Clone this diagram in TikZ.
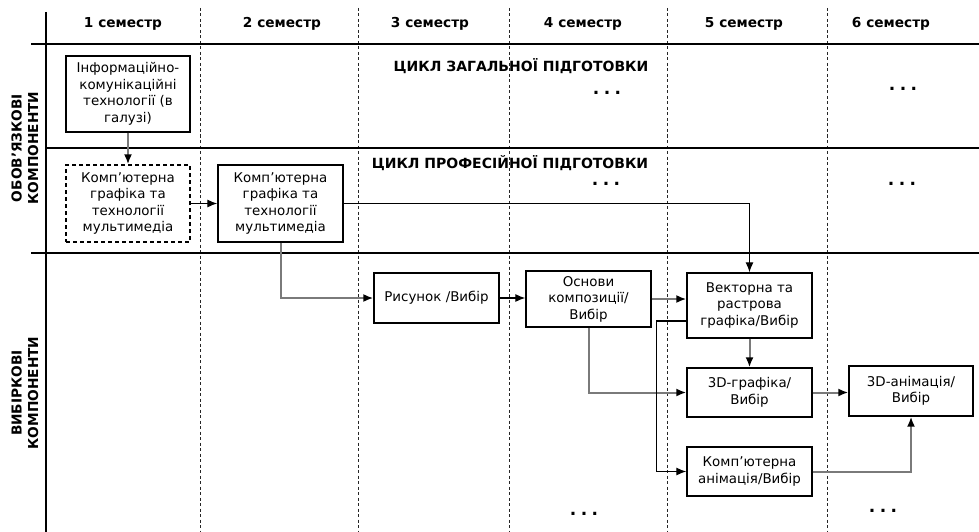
\documentclass[tikz,border=0pt]{standalone}
\usepackage{fontspec}
\setmainfont{DejaVu Sans}
\usetikzlibrary{arrows.meta}

\begin{document}
\begin{tikzpicture}[x=1pt,y=-1pt,
  grid/.style={line width=2.3pt,black},
  semline/.style={line width=1pt,black!85,dash pattern=on 3pt off 2.5pt},
  head/.style={font=\fontsize{13.7}{16}\selectfont\bfseries,inner sep=0pt},
  cycle/.style={font=\fontsize{14}{16}\selectfont\bfseries,inner sep=0pt},
  side/.style={font=\fontsize{13.7}{16.5}\selectfont\bfseries,align=center,rotate=90,inner sep=0pt},
  dots/.style={font=\fontsize{17}{17}\selectfont\bfseries,inner sep=0pt},
  box/.style={draw,line width=1.3pt,fill=white,align=center,inner sep=1pt,
    font=\fontsize{13.4}{16.5}\selectfont},
  optbox/.style={box,dash pattern=on 4pt off 3pt},
  grayarrow/.style={draw=black!52,line width=2pt,-{Latex[length=10pt,width=8pt,color=black]}},
  blackarrow/.style={draw=black,line width=1.2pt,-{Latex[length=10pt,width=8pt]}}]
\useasboundingbox (0,0) rectangle (979,532);

% semester separators
\foreach \x in {200,358,509,667,827}
  \draw[semline] (\x,8) -- (\x,532);

% table frame
\draw[grid] (46,12) -- (46,532);
\draw[grid] (31,44) -- (979,44);
\draw[grid] (46,148) -- (979,148);
\draw[grid] (31,253) -- (979,253);

% semester headings
\node[head] (s1) at (123,24) {1 семестр};
\node[head] (s2) at (282,24) {2 семестр};
\node[head] (s3) at (430,24) {3 семестр};
\node[head] (s4) at (583,24) {4 семестр};
\node[head] (s5) at (744,24) {5 семестр};
\node[head] (s6) at (891,24) {6 семестр};

% row labels
\node[side] (obl) at (25,148) {ОБОВ'ЯЗКОВІ\\КОМПОНЕНТИ};
\node[side] (vyb) at (25,393) {ВИБІРКОВІ\\КОМПОНЕНТИ};

% cycle titles
\node[cycle] (zag) at (521,66) {ЦИКЛ ЗАГАЛЬНОЇ ПІДГОТОВКИ};
\node[cycle] (prof) at (510,163) {ЦИКЛ ПРОФЕСІЙНОЇ ПІДГОТОВКИ};

% continuation marks
\newcommand{\cont}{.\hspace{4.5pt}.\hspace{4.5pt}.}
\node[dots] (d1) at (607,93) {\cont};
\node[dots] (d2) at (903,89) {\cont};
\node[dots] (d3) at (606,184) {\cont};
\node[dots] (d4) at (902,184) {\cont};
\node[dots] (d5) at (584,514) {\cont};
\node[dots] (d6) at (883,511) {\cont};

% courses
\node[box,minimum width=124pt,minimum height=76pt] (a) at (128,94)
  {Інформаційно-\\комунікаційні\\технології (в\\галузі)};
\node[optbox,minimum width=124pt,minimum height=77pt] (b) at (128,203.5)
  {Комп'ютерна\\графіка та\\технології\\мультимедіа};
\node[box,minimum width=125pt,minimum height=77pt] (c) at (280.5,203.5)
  {Комп'ютерна\\графіка та\\технології\\мультимедіа};
\node[box,minimum width=125pt,minimum height=50pt] (r) at (436.5,298)
  {Рисунок /Вибір};
\node[box,minimum width=125pt,minimum height=56pt] (o) at (588.5,299)
  {Основи\\композиції/\\Вибір};
\node[box,minimum width=125pt,minimum height=65pt] (v) at (749.5,305.5)
  {Векторна та\\растрова\\графіка/Вибір};
\node[box,minimum width=125pt,minimum height=49pt] (g) at (749.5,392.5)
  {3D-графіка/\\Вибір};
\node[box,minimum width=124pt,minimum height=50pt] (an) at (911,391)
  {3D-анімація/\\Вибір};
\node[box,minimum width=125pt,minimum height=49pt] (k) at (749.5,471.5)
  {Комп'ютерна\\анімація/Вибір};

% prerequisites
\draw[grayarrow] (a.south) -- (b.north);
\draw[blackarrow] (b.east) -- (c.west);
\draw[blackarrow] (c.east) -| (v.north);
\draw[grayarrow] (c.south) |- (r.west);
\draw[blackarrow] (r.east) -- (r.east -| o.west);
\draw[grayarrow] (o.east) -- (o.east -| v.west);
\draw[grayarrow] (v.south) -- (g.north);
\draw[grayarrow] (o.south) |- (g.west);
\draw[blackarrow] ([yshift=-15.5pt]v.west) -- ++(-30,0) |- (k.west);
\draw[grayarrow] (g.east) -- (g.east -| an.west);
\draw[grayarrow] (k.east) -| (an.south);
\end{tikzpicture}
\end{document}
